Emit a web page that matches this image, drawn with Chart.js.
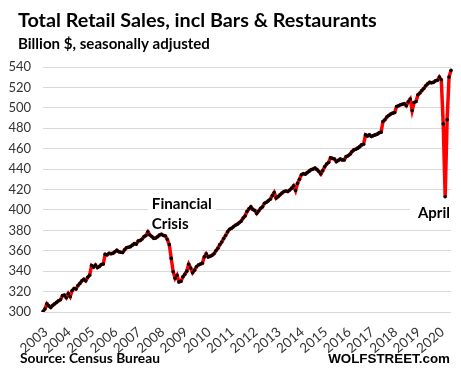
<!DOCTYPE html>
<html>
<head>
<meta charset="utf-8">
<script src="https://cdn.jsdelivr.net/npm/chart.js@4.4.1/dist/chart.umd.min.js"></script>
<style>
  body { margin: 0; background: #fff; }
</style>
</head>
<body>
<canvas id="sales" width="461" height="373"></canvas>
<script>
// monthly retail sales, billion $ (Jan 2003 .. Jul 2020)
var years = [2003, 2004, 2005, 2006, 2007, 2008, 2009, 2010, 2011, 2012, 2013, 2014, 2015, 2016, 2017, 2018, 2019, 2020];
var sales2003 = [300.5, 303, 308, 306, 304.5, 306.5, 308, 309.5, 311, 312, 316, 316.5];
var sales2004 = [314, 318, 315, 321, 323, 322.5, 326, 328, 330.5, 332, 330.5, 334];
var sales2005 = [336, 345.5, 344, 346, 343.5, 344.5, 346.5, 347, 356.5, 356, 357.5, 357];
var sales2006 = [357.5, 359, 360.5, 359, 358.5, 358.3, 361, 363, 363.5, 364, 365.5, 367];
var sales2007 = [366.5, 369.5, 370, 371.5, 373.8, 375, 378.5, 375.5, 374, 372.2, 372.5, 373.8];
var sales2008 = [375.5, 376, 375, 374.5, 371, 366, 352.5, 339.5, 333, 336, 329.5, 330];
var sales2009 = [334.4, 337, 340, 346.8, 343, 338.5, 341, 344.3, 346, 347, 347.7, 354];
var sales2010 = [357, 354, 354.5, 355.5, 357, 360, 362.5, 366, 368.5, 372, 375, 378.5];
var sales2011 = [381, 382, 383.5, 385, 386, 387.5, 389, 392, 394, 398.5, 401, 403];
var sales2012 = [400.5, 399.5, 396.5, 399, 401.5, 403, 406.5, 407.5, 409, 410.5, 414, 417];
var sales2013 = [411.6, 413, 414.8, 416.5, 418, 418.5, 418, 419.5, 421.3, 423.6, 419, 426];
var sales2014 = [430, 434.5, 435.5, 435, 436.5, 438, 439.4, 440, 441, 439.5, 437.7, 435.2];
var sales2015 = [438.5, 442.4, 445, 446.5, 451, 450.5, 449.9, 447.3, 448.5, 449.9, 449, 448.9];
var sales2016 = [452.2, 453, 454.6, 457, 458.8, 459.5, 460.5, 462, 463.7, 464.4, 473.5, 472.5];
var sales2017 = [473.5, 472, 472.8, 473.5, 474.2, 475.5, 476.2, 486.6, 488.3, 491, 492.5, 494];
var sales2018 = [494.8, 495.4, 501.3, 502, 503, 503.5, 504, 502, 506, 508.6, 497.4, 505.2];
var sales2019 = [506.2, 512.8, 514.5, 517, 519, 521.6, 523.5, 524.9, 524.5, 525, 526.5, 527];
var sales2020 = [530.2, 527.5, 484.3, 412.9, 488.3, 530.2, 536.7];

var yTicks = [300, 320, 340, 360, 380, 400, 420, 440, 460, 480, 500, 520, 540];

var sales = [].concat(sales2003, sales2004, sales2005, sales2006, sales2007, sales2008,
  sales2009, sales2010, sales2011, sales2012, sales2013, sales2014, sales2015,
  sales2016, sales2017, sales2018, sales2019, sales2020);

var months = [];
years.forEach(function (y) {
  for (var m = 1; m <= 12; m++) months.push(y + '-' + (m < 10 ? '0' : '') + m);
});
months = months.slice(0, sales.length);

// set a bold font sized so the text spans the given width
function fitFont(c, txt, w, family) {
  c.font = 'bold 20px ' + family;
  var size = 20 * w / c.measureText(txt).width;
  c.font = 'bold ' + size.toFixed(2) + 'px ' + family;
}

// titles, footer and the two notes
var textPlugin = {
  id: 'texts',
  beforeDatasetsDraw: function (chart) {
    var c = chart.ctx, x = chart.scales.x, y = chart.scales.y;
    c.save();
    c.textAlign = 'left';
    c.textBaseline = 'alphabetic';
    c.fillStyle = '#fff';
    var fx = x.getPixelForValue(56), fy = y.getPixelForValue(401);
    c.fillRect(fx - 4, fy - 14, 68, 38);
    var ax = x.getPixelForValue(193), ay = y.getPixelForValue(392);
    c.fillRect(ax - 8, ay - 14, 44, 18);
    c.fillStyle = '#000';
    fitFont(c, 'Financial', 60, 'Lato');
    c.fillText('Financial', fx, fy);
    c.fillText('Crisis', fx, fy + 20);
    fitFont(c, 'April', 32, 'Lato');
    c.fillText('April', ax, ay);
    c.restore();
  },
  afterDraw: function (chart) {
    var c = chart.ctx;
    c.save();
    c.fillStyle = '#000';
    c.textAlign = 'left';
    c.textBaseline = 'alphabetic';
    fitFont(c, 'Total Retail Sales, incl Bars & Restaurants', 359, 'Lato');
    c.fillText('Total Retail Sales, incl Bars & Restaurants', 18, 27);
    fitFont(c, 'Billion $, seasonally adjusted', 192, 'Lato');
    c.fillText('Billion $, seasonally adjusted', 18, 49);
    fitFont(c, 'Source: Census Bureau', 140, 'Lato');
    c.fillText('Source: Census Bureau', 20, 363);
    fitFont(c, 'WOLFSTREET.com', 122, '"Liberation Sans"');
    c.textAlign = 'right';
    c.fillText('WOLFSTREET.com', 450, 363);
    c.restore();
  }
};

new Chart(document.getElementById('sales'), {
  type: 'line',
  data: {
    labels: months,
    datasets: [{
      data: sales,
      borderColor: '#ff0000',
      borderWidth: 3.5,
      pointRadius: 1.8,
      pointBackgroundColor: '#000',
      pointBorderWidth: 0,
      tension: 0
    }]
  },
  options: {
    responsive: false,
    animation: false,
    layout: { padding: { top: 67, right: 10, left: 0, bottom: 0 } },
    plugins: { legend: { display: false }, tooltip: { enabled: false } },
    scales: {
      x: {
        grid: { display: false },
        border: { display: false },
        afterFit: function (s) { s.height = 61; s.paddingLeft = 0; s.paddingRight = 0; },
        ticks: {
          autoSkip: false,
          minRotation: 40,
          maxRotation: 40,
          padding: 4,
          labelOffset: 3,
          color: '#333',
          font: { family: 'Lato', size: 13.5 },
          callback: function (v, i) {
            var l = months[i];
            return l.slice(5) === '01' ? l.slice(0, 4) : '';
          }
        }
      },
      y: {
        min: yTicks[0],
        max: yTicks[yTicks.length - 1],
        afterFit: function (s) { s.width = 43; },
        afterBuildTicks: function (s) { s.ticks = yTicks.map(function (v) { return { value: v }; }); },
        grid: { color: '#d9d9d9', drawTicks: false },
        border: { display: false },
        ticks: { padding: 12, color: '#333', font: { family: 'Lato', size: 13 } }
      }
    }
  },
  plugins: [textPlugin]
});
</script>
</body>
</html>
